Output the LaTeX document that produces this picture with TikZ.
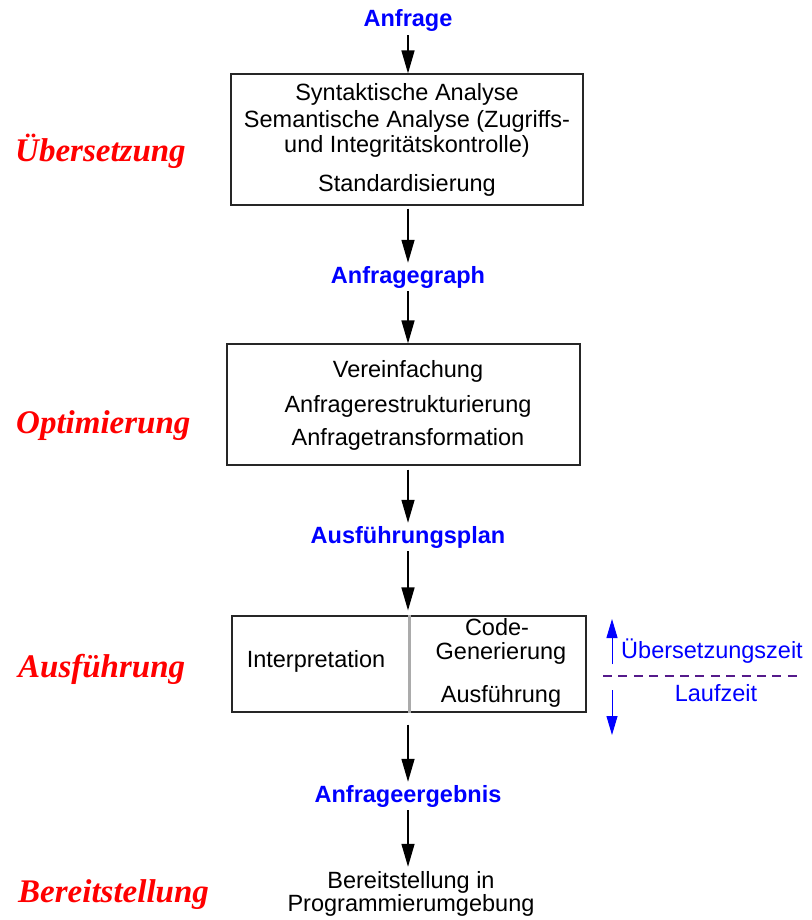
\documentclass[tikz,border=0pt]{standalone}
\usepackage{fontspec}
\setmainfont{Liberation Sans}
\newfontfamily\phasefont{Liberation Serif}
\usetikzlibrary{arrows.meta}
\definecolor{lblue}{RGB}{0,0,255}
\definecolor{lred}{RGB}{255,0,0}
\definecolor{lpurple}{RGB}{85,26,139}
\begin{document}
\begin{tikzpicture}[x=1pt,y=-1pt,
  txt/.style={anchor=base,inner sep=0pt,font=\fontsize{23.5}{25}\selectfont},
  lbl/.style={anchor=base,inner sep=3pt,text=lblue,font=\fontsize{23.5}{25}\selectfont\bfseries},
  side/.style={anchor=base,inner sep=0pt,text=lblue,font=\fontsize{23.5}{25}\selectfont},
  phase/.style={anchor=base west,inner sep=0pt,text=lred,font=\phasefont\fontsize{33}{35}\selectfont\bfseries\itshape},
  box/.style={draw=black!85,line width=1.2pt,inner sep=0pt},
  arr/.style={line width=1.5pt,-{Triangle[length=23pt,width=13pt]}},
  tarr/.style={line width=1pt,draw=lblue,fill=lblue,-{Triangle[length=19pt,width=11pt]}}
]
\useasboundingbox (0,0) rectangle (811,920);

% phase labels
\node[phase] (ph1) at (15,162) {Übersetzung};
\node[phase] (ph2) at (16,433) {Optimierung};
\node[phase] (ph3) at (18,677) {Ausführung};
\node[phase] (ph4) at (18,902) {Bereitstellung};

% flow
\node[lbl] (q) at (408,27) {Anfrage};

\node[box,minimum width=352pt,minimum height=131pt] (b1) at (407,139.5) {};
\node[txt] (b1a) at (407,101) {Syntaktische Analyse};
\node[txt] (b1b) at (407,128) {Semantische Analyse (Zugriffs-};
\node[txt] (b1c) at (407,153) {und Integritätskontrolle)};
\node[txt] (b1d) at (407,192) {Standardisierung};

\node[lbl] (g) at (408,283) {Anfragegraph};

\node[box,minimum width=353pt,minimum height=121pt] (b2) at (403.5,404.5) {};
\node[txt] (b2a) at (408,377) {Vereinfachung};
\node[txt] (b2b) at (408,412) {Anfragerestrukturierung};
\node[txt] (b2c) at (408,445) {Anfragetransformation};

\node[lbl] (p) at (408,543) {Ausführungsplan};

\node[box,minimum width=354pt,minimum height=96pt] (b3) at (409,664) {};
\draw[black!33,line width=3pt] (b3.north) -- (b3.south);
\node[txt] (b3a) at (316,667) {Interpretation};
\node[txt] (b3b) at (497,635) {Code-};
\node[txt] (b3c) at (501,659) {Generierung};
\node[txt] (b3d) at (501,702) {Ausführung};

\node[lbl] (r) at (408,802) {Anfrageergebnis};

\node[txt] (e1) at (411,888) {Bereitstellung in};
\node[txt] (e2) at (411,911) {Programmierumgebung};

% connectors
\draw[arr] (q.south) -- (q.south |- b1.north);
\draw[arr,shorten <=3pt] (b1.south -| g.north) -- (g.north);
\draw[arr] (g.south) -- (g.south |- b2.north);
\draw[arr,shorten <=4pt] (b2.south -| p.north) -- (p.north);
\draw[arr,shorten >=5pt] (p.south) -- (p.south |- b3.north);
\draw[arr,shorten <=12pt] (b3.south -| r.north) -- (r.north);
\draw[arr,shorten >=4pt] (r.south) -- (r.south |- e1.north);

% time side
\node[side] (uz) at (712,658) {Übersetzungszeit};
\node[side] (lz) at (716,701) {Laufzeit};
\coordinate (d1) at (603,676);
\coordinate (d2) at (803,676);
\draw[lpurple,line width=1.5pt,dash pattern=on 9pt off 6.4pt] (d1) -- (d2);
\coordinate (u0) at (612,664);
\coordinate (u1) at (612,619);
\draw[tarr] (u0) -- (u1);
\coordinate (l0) at (612,690);
\coordinate (l1) at (612,735);
\draw[tarr] (l0) -- (l1);
\end{tikzpicture}
\end{document}
